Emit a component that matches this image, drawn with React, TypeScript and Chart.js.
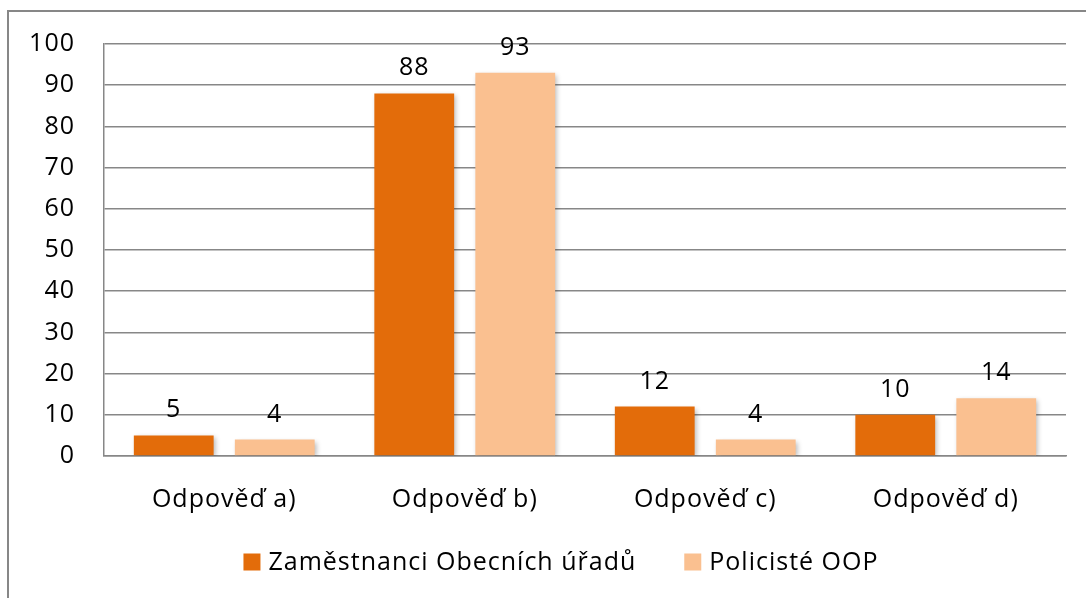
import React, { useEffect, useRef } from 'react';
import { Chart, registerables } from 'chart.js';

Chart.register(...registerables);

const categories = ['Odpověď a)', 'Odpověď b)', 'Odpověď c)', 'Odpověď d)'];
const seriesNames = ['Zaměstnanci Obecních úřadů', 'Policisté OOP'];
const zamestnanciValues = [5, 88, 12, 10];
const policisteValues = [4, 93, 4, 14];
const seriesColors = ['#E36C0A', '#FAC090'];
const yMin = 0;
const yMax = 100;
const yStep = 10;

const FONT = "'Open Sans', 'DejaVu Sans', sans-serif";
const FONT_SIZE = 25;
const GRID = '#878787';

const spacingPlugin = {
  id: 'letterSpacing',
  beforeInit(chart: any) {
    chart.ctx.letterSpacing = '1px';
  },
  beforeUpdate(chart: any) {
    chart.ctx.letterSpacing = '1px';
  },
  beforeDraw(chart: any) {
    chart.ctx.letterSpacing = '1px';
  },
};

const framePlugin = {
  id: 'frame',
  beforeDraw(chart: any) {
    const ctx = chart.ctx;
    ctx.save();
    ctx.fillStyle = '#ffffff';
    ctx.fillRect(0, 0, chart.width, chart.height);
    ctx.strokeStyle = GRID;
    ctx.lineWidth = 2;
    ctx.beginPath();
    ctx.moveTo(8, chart.height + 5);
    ctx.lineTo(8, 11);
    ctx.lineTo(chart.width + 5, 11);
    ctx.stroke();
    ctx.restore();
  },
};

const shadowPlugin = {
  id: 'barShadow',
  beforeDatasetsDraw(chart: any) {
    const ctx = chart.ctx;
    ctx.save();
    ctx.shadowColor = 'rgba(0,0,0,0.28)';
    ctx.shadowBlur = 5;
    ctx.shadowOffsetX = 2;
    ctx.shadowOffsetY = 2;
  },
  afterDatasetsDraw(chart: any) {
    chart.ctx.restore();
  },
};

const valueLabelPlugin = {
  id: 'valueLabels',
  afterDatasetsDraw(chart: any) {
    const ctx = chart.ctx;
    ctx.save();
    ctx.font = `${FONT_SIZE}px ${FONT}`;
    ctx.fillStyle = '#000';
    ctx.textAlign = 'center';
    ctx.textBaseline = 'alphabetic';
    chart.data.datasets.forEach((ds: any, di: number) => {
      const meta = chart.getDatasetMeta(di);
      meta.data.forEach((bar: any, i: number) => {
        ctx.fillText(String(ds.data[i]), bar.x, bar.y - 18);
      });
    });
    ctx.restore();
  },
};

const legendPlugin = {
  id: 'customLegend',
  afterDraw(chart: any) {
    const ctx = chart.ctx;
    ctx.save();
    ctx.font = `${FONT_SIZE}px ${FONT}`;
    ctx.textBaseline = 'middle';
    ctx.textAlign = 'left';
    const box = 17;
    const gapBoxText = 8;
    const gapItems = 48;
    const items = chart.data.datasets.map((ds: any) => ({
      label: ds.label,
      color: ds.backgroundColor,
      w: box + gapBoxText + ctx.measureText(ds.label).width,
    }));
    const total = items.reduce((s: number, it: any) => s + it.w, 0) + gapItems * (items.length - 1);
    let x = 561 - total / 2;
    const cy = 562;
    items.forEach((it: any) => {
      ctx.fillStyle = it.color;
      ctx.fillRect(x, cy - box / 2, box, box);
      ctx.fillStyle = '#000';
      ctx.fillText(it.label, x + box + gapBoxText, cy + 1);
      x += it.w + gapItems;
    });
    ctx.restore();
  },
};

export default function App() {
  const canvasRef = useRef<HTMLCanvasElement | null>(null);

  useEffect(() => {
    if (!canvasRef.current) return;
    const chart = new Chart(canvasRef.current, {
      type: 'bar',
      data: {
        labels: categories,
        datasets: [
          {
            label: seriesNames[0],
            data: zamestnanciValues,
            backgroundColor: seriesColors[0],
            categoryPercentage: 0.84,
            barPercentage: 0.79,
          },
          {
            label: seriesNames[1],
            data: policisteValues,
            backgroundColor: seriesColors[1],
            categoryPercentage: 0.84,
            barPercentage: 0.79,
          },
        ],
      },
      options: {
        responsive: false,
        animation: false,
        devicePixelRatio: 1,
        layout: { padding: { top: 43, right: 20, left: 0, bottom: 67 } },
        plugins: {
          legend: { display: false },
          tooltip: { enabled: false },
        },
        scales: {
          x: {
            grid: { display: false, drawTicks: false },
            border: { display: true, color: GRID, width: 1.5 },
            ticks: { font: { family: FONT, size: FONT_SIZE }, color: '#000', padding: 29 },
            afterFit(scale: any) {
              scale.height = 75;
            },
          },
          y: {
            min: yMin,
            max: yMax,
            grid: { color: GRID, lineWidth: 1.5, drawTicks: false },
            border: { display: true, color: GRID, width: 1.5 },
            ticks: {
              stepSize: yStep,
              font: { family: FONT, size: FONT_SIZE },
              color: '#000',
              padding: 29,
            },
            afterFit(scale: any) {
              scale.width = 104;
            },
          },
        },
      },
      plugins: [spacingPlugin, framePlugin, shadowPlugin, valueLabelPlugin, legendPlugin],
    });
    return () => chart.destroy();
  }, []);

  return (
    <div style={{ position: 'fixed', left: 0, top: 0, width: 1086, height: 598, background: '#fff' }}>
      <canvas ref={canvasRef} width={1086} height={598} style={{ display: 'block' }} />
    </div>
  );
}
